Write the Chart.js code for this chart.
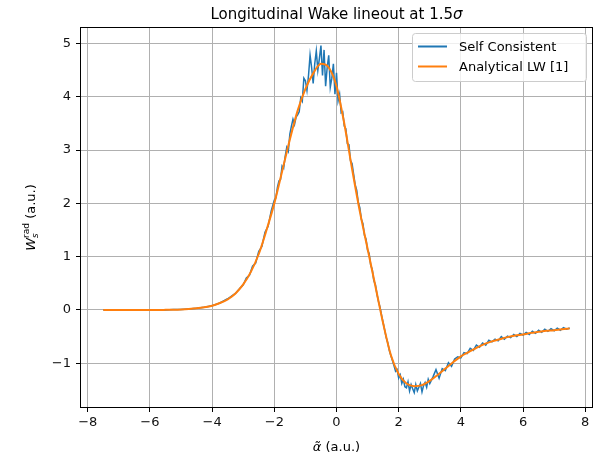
<!DOCTYPE html>
<html>
<head>
<meta charset="utf-8">
<script src="https://cdn.jsdelivr.net/npm/chart.js@4.4.1/dist/chart.umd.min.js"></script>
<style>
  html, body { margin: 0; padding: 0; background: #fff; }
</style>
</head>
<body>
<canvas id="wake" width="599" height="459"></canvas>
<script>
// Self consistent lineout (noisy)
const alphaSC = [
  -7.5, -7.25, -7, -6.75, -6.5, -6.25, -6, -5.75, -5.5, -5.25, -5, -4.75, -4.5, -4.25, -4, -3.75, -3.5, -3.25,
  -3.1, -3, -2.9, -2.8, -2.7, -2.6, -2.5, -2.4, -2.3, -2.2, -2.1,
  -2, -1.95, -1.9, -1.85, -1.8, -1.75, -1.7, -1.65, -1.6, -1.55,
  -1.5, -1.45, -1.4, -1.35, -1.3, -1.25, -1.2, -1.15, -1.1, -1.05,
  -1, -0.95, -0.9, -0.85, -0.8, -0.75, -0.7, -0.65, -0.6, -0.55,
  -0.5, -0.45, -0.4, -0.35, -0.3, -0.25, -0.2, -0.15, -0.1, -0.05,
  0, 0.05, 0.1, 0.15, 0.2, 0.25, 0.3, 0.35, 0.4, 0.45,
  0.5, 0.55, 0.6, 0.65, 0.7, 0.75, 0.8, 0.85, 0.9, 0.95,
  1, 1.05, 1.1, 1.15, 1.2, 1.25, 1.3, 1.35, 1.4, 1.45,
  1.5, 1.55, 1.6, 1.65, 1.7, 1.75, 1.8, 1.85, 1.9, 1.95,
  2, 2.05, 2.1, 2.15, 2.2, 2.25, 2.3, 2.35, 2.4, 2.45,
  2.5, 2.55, 2.6, 2.65, 2.7, 2.75, 2.8, 2.85, 2.9, 2.95,
  3, 3.1, 3.2, 3.3, 3.4, 3.5, 3.6, 3.7, 3.8, 3.9, 4,
  4.1, 4.2, 4.3, 4.4, 4.5, 4.6, 4.7, 4.8, 4.9, 5,
  5.1, 5.2, 5.3, 5.4, 5.5, 5.6, 5.7, 5.8, 5.9, 6,
  6.1, 6.2, 6.3, 6.4, 6.5, 6.6, 6.7, 6.8, 6.9, 7,
  7.1, 7.2, 7.3, 7.4, 7.5
];
const wakeSC = [
  0, 0, 0, 0, 0, 0, 0, 0, 0, 0.01, 0.01, 0.02, 0.03, 0.05, 0.08, 0.13, 0.21, 0.31,
  0.41, 0.47, 0.6, 0.65, 0.82, 0.88, 1.1, 1.19, 1.46, 1.57, 1.86,
  2.06, 2.10, 2.30, 2.42, 2.45, 2.70, 2.66, 2.88, 3.05, 2.98,
  3.30, 3.45, 3.58, 3.48, 3.62, 3.66, 3.72, 3.98, 3.92, 4.35,
  4.30, 4.12, 4.40, 4.78, 4.55, 4.25, 4.62, 4.86, 4.50, 4.72,
  4.96, 4.40, 4.88, 4.20, 4.55, 4.78, 4.18, 4.35, 4.62, 4.05,
  4.45, 3.92, 4.05, 3.70, 3.72, 3.45, 3.40, 3.12, 3.10, 2.80,
  2.75, 2.55, 2.35, 2.25, 2.02, 1.92, 1.70, 1.62, 1.40, 1.33,
  1.12, 1.06, 0.84, 0.76, 0.55, 0.48, 0.30, 0.16, 0.05, -0.10,
  -0.24, -0.38, -0.52, -0.62, -0.76, -0.86, -0.95, -1.05, -1.15, -1.12,
  -1.28, -1.22, -1.38, -1.30, -1.44, -1.46, -1.35, -1.52, -1.40, -1.48,
  -1.55, -1.40, -1.52, -1.45, -1.38, -1.54, -1.42, -1.36, -1.45, -1.30,
  -1.38, -1.26, -1.12, -1.28, -1.10, -1.14, -0.99, -1.06, -0.92, -0.88, -0.90,
  -0.80, -0.82, -0.72, -0.76, -0.66, -0.70, -0.62, -0.66, -0.57, -0.60,
  -0.55, -0.58, -0.50, -0.55, -0.49, -0.52, -0.46, -0.50, -0.44, -0.47,
  -0.42, -0.46, -0.40, -0.44, -0.38, -0.42, -0.36, -0.40, -0.35, -0.39,
  -0.34, -0.38, -0.33, -0.36, -0.34
];

// Analytical LW curve
const alphaLW = [
  -7.5, -7.25, -7, -6.75, -6.5, -6.25, -6, -5.75, -5.5, -5.25, -5, -4.75, -4.5, -4.25, -4, -3.75,
  -3.5, -3.25, -3, -2.75, -2.5, -2.25, -2, -1.75, -1.5, -1.25, -1, -0.75, -0.5, -0.25,
  0, 0.25, 0.5, 0.75, 1, 1.25, 1.5, 1.75, 2, 2.25, 2.5, 2.75, 3, 3.25, 3.5, 3.75,
  4, 4.25, 4.5, 4.75, 5, 5.25, 5.5, 5.75, 6, 6.25, 6.5, 6.75, 7, 7.25, 7.5
];
const wakeLW = [
  0, 0, 0, 0, 0, 0, 0, 0, 0.002, 0.005, 0.01, 0.018, 0.03, 0.05, 0.08, 0.13,
  0.2, 0.31, 0.48, 0.72, 1.05, 1.5, 2.0, 2.6, 3.2, 3.74, 4.15, 4.44, 4.62, 4.55,
  4.2, 3.5, 2.65, 1.85, 1.15, 0.45, -0.25, -0.85, -1.2, -1.38, -1.43, -1.41, -1.33, -1.22, -1.1, -0.98,
  -0.87, -0.79, -0.71, -0.64, -0.59, -0.55, -0.51, -0.48, -0.46, -0.43, -0.41, -0.39, -0.38, -0.36, -0.35
];

const seriesNames = ['Self Consistent', 'Analytical LW [1]'];
const xTicks = [-8, -6, -4, -2, 0, 2, 4, 6, 8];
const yTicks = [-1, 0, 1, 2, 3, 4, 5];

const FONT = '"DejaVu Sans", sans-serif';
const fmt = (v) => (v < 0 ? '\u2212' + Math.abs(v) : String(v));

// frame, title, axis labels and legend, matplotlib style
const decor = {
  id: 'decor',
  afterDraw(chart) {
    const { ctx, chartArea: a } = chart;
    const cx = (a.left + a.right) / 2;
    const cy = (a.top + a.bottom) / 2;
    ctx.save();
    ctx.strokeStyle = '#000';
    ctx.lineWidth = 1;
    ctx.strokeRect(a.left + 0.5, a.top + 0.5, a.right - a.left - 1, a.bottom - a.top - 1);

    ctx.fillStyle = '#000';
    ctx.textBaseline = 'alphabetic';
    ctx.textAlign = 'left';

    // title
    ctx.font = '15px ' + FONT;
    const t1 = 'Longitudinal Wake lineout at 1.5';
    const w1 = ctx.measureText(t1).width;
    ctx.font = 'italic 15px ' + FONT;
    const w2 = ctx.measureText('\u03c3').width;
    let x0 = cx - (w1 + w2) / 2;
    ctx.font = '15px ' + FONT;
    ctx.fillText(t1, x0, 19);
    ctx.font = 'italic 15px ' + FONT;
    ctx.fillText('\u03c3', x0 + w1, 19);

    // x label
    ctx.font = 'italic 13px ' + FONT;
    const xa = ctx.measureText('\u03b1\u0303').width;
    ctx.font = '13px ' + FONT;
    const xb = ctx.measureText(' (a.u.)').width;
    x0 = cx - (xa + xb) / 2;
    ctx.font = 'italic 13px ' + FONT;
    ctx.fillText('\u03b1\u0303', x0, 451);
    ctx.font = '13px ' + FONT;
    ctx.fillText(' (a.u.)', x0 + xa, 451);

    // y label
    ctx.save();
    ctx.translate(35, cy);
    ctx.rotate(-Math.PI / 2);
    ctx.font = 'italic 13px ' + FONT;
    const wW = ctx.measureText('W').width;
    ctx.font = 'italic 9px ' + FONT;
    const ws = ctx.measureText('s').width;
    ctx.font = '9px ' + FONT;
    const wr = ctx.measureText('rad').width;
    ctx.font = '13px ' + FONT;
    const wu = ctx.measureText(' (a.u.)').width;
    const tot = wW + Math.max(ws, wr) + wu;
    x0 = -tot / 2;
    ctx.font = 'italic 13px ' + FONT;
    ctx.fillText('W', x0, 0);
    ctx.font = 'italic 9px ' + FONT;
    ctx.fillText('s', x0 + wW, 3);
    ctx.font = '9px ' + FONT;
    ctx.fillText('rad', x0 + wW, -6);
    ctx.font = '13px ' + FONT;
    ctx.fillText(' (a.u.)', x0 + wW + Math.max(ws, wr), 0);
    ctx.restore();

    // legend
    const bx = 412.5, by = 33.5, bw = 174, bh = 48;
    ctx.beginPath();
    ctx.roundRect(bx, by, bw, bh, 3);
    ctx.fillStyle = 'rgba(255,255,255,0.8)';
    ctx.fill();
    ctx.strokeStyle = '#cccccc';
    ctx.lineWidth = 1;
    ctx.stroke();
    ctx.font = '13px ' + FONT;
    ctx.textBaseline = 'middle';
    chart.data.datasets.forEach((ds, i) => {
      const ly = 46.5 + i * 20;
      ctx.strokeStyle = ds.borderColor;
      ctx.lineWidth = 2;
      ctx.beginPath();
      ctx.moveTo(418, ly);
      ctx.lineTo(447, ly);
      ctx.stroke();
      ctx.fillStyle = '#000';
      ctx.fillText(ds.label, 459, ly + 1);
    });
    ctx.restore();
  }
};

const gridOpts = { color: '#b0b0b0', lineWidth: 1, tickLength: 4, tickColor: '#000' };
const tickOpts = { font: { family: FONT, size: 13 }, color: '#111', maxRotation: 0, autoSkip: false, callback: fmt };

new Chart(document.getElementById('wake'), {
  type: 'scatter',
  data: {
    datasets: [
      {
        label: seriesNames[0],
        data: alphaSC.map((x, i) => ({ x: x, y: wakeSC[i] })),
        showLine: true,
        borderColor: '#1f77b4',
        borderWidth: 1.5,
        pointRadius: 0,
        tension: 0,
        order: 2,
      },
      {
        label: seriesNames[1],
        data: alphaLW.map((x, i) => ({ x: x, y: wakeLW[i] })),
        showLine: true,
        borderColor: '#ff7f0e',
        borderWidth: 2,
        pointRadius: 0,
        cubicInterpolationMode: 'monotone',
        order: 1,
      },
    ],
  },
  options: {
    responsive: false,
    animation: false,
    devicePixelRatio: 1,
    layout: { padding: { left: 0, right: 6, top: 27, bottom: 0 } },
    plugins: { legend: { display: false }, title: { display: false }, tooltip: { enabled: false } },
    scales: {
      x: {
        type: 'linear',
        min: -8.25,
        max: 8.25,
        afterBuildTicks: (s) => { s.ticks = xTicks.map((v) => ({ value: v })); },
        afterFit: (s) => { s.height = 51; },
        grid: gridOpts,
        border: { display: false },
        ticks: Object.assign({ padding: 3 }, tickOpts),
      },
      y: {
        type: 'linear',
        min: -1.84,
        max: 5.31,
        afterBuildTicks: (s) => { s.ticks = yTicks.map((v) => ({ value: v })); },
        afterFit: (s) => { s.width = 80; },
        grid: gridOpts,
        border: { display: false },
        ticks: Object.assign({ padding: 5 }, tickOpts),
      },
    },
  },
  plugins: [decor],
});
</script>
</body>
</html>
